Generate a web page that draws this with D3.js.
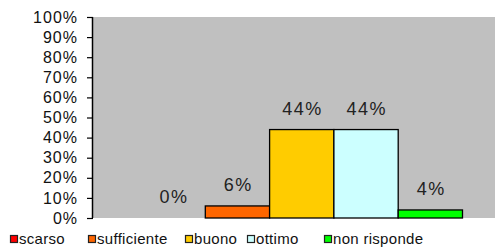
<!DOCTYPE html>
<html>
<head>
<meta charset="utf-8">
<script src="https://cdn.jsdelivr.net/npm/d3@7"></script>
<style>
  body { margin: 0; background: #fff; }
  svg { display: block; font-family: Arial, "Liberation Sans", sans-serif; }
</style>
</head>
<body>
<svg id="chart"></svg>
<script>
// dati
const categories = ['scarso', 'sufficiente', 'buono', 'ottimo', 'non risponde'];
const values = [0, 6, 44, 44, 4];
const colors = ['#ff0000', '#ff6600', '#ffcc00', '#ccffff', '#00ff00'];
const yTicks = [0, 10, 20, 30, 40, 50, 60, 70, 80, 90, 100];

const width = 495, height = 247;
const plot = { left: 93, right: 495, top: 17, bottom: 218 };

const svg = d3.select('#chart')
  .attr('width', width)
  .attr('height', height);

// scale
const x = d3.scaleBand()
  .domain(categories)
  .range([141, 462.5])
  .padding(0);

const y = d3.scaleLinear()
  .domain([0, 100])
  .range([plot.bottom, plot.top]);

// sfondo area del grafico
svg.append('rect')
  .attr('x', plot.left)
  .attr('y', plot.top)
  .attr('width', plot.right - plot.left)
  .attr('height', plot.bottom - plot.top)
  .attr('fill', '#c0c0c0');

// barre
svg.selectAll('.bar')
  .data(categories)
  .enter()
  .append('rect')
  .attr('class', 'bar')
  .attr('x', d => x(d))
  .attr('y', (d, i) => y(values[i]))
  .attr('width', x.bandwidth())
  .attr('height', (d, i) => y(0) - y(values[i]))
  .attr('fill', (d, i) => colors[i])
  .attr('stroke', (d, i) => values[i] > 0 ? '#000' : 'none')
  .attr('stroke-width', 1.3);

// etichette valori
svg.selectAll('.label')
  .data(categories)
  .enter()
  .append('text')
  .attr('class', 'label')
  .attr('x', d => x(d) + x.bandwidth() / 2 + 0.8)
  .attr('y', (d, i) => y(values[i]) - 15)
  .attr('text-anchor', 'middle')
  .style('font-size', '18px')
  .style('letter-spacing', '1.5px')
  .style('fill', '#222')
  .text((d, i) => values[i] + '%');

// asse Y
const yAxis = svg.append('g')
  .attr('transform', `translate(${plot.left},0)`)
  .call(d3.axisLeft(y)
    .tickValues(yTicks)
    .tickSize(6)
    .tickPadding(9)
    .tickFormat(d => d + '%'));

yAxis.select('.domain')
  .attr('d', `M-0.5,${plot.top}V${plot.bottom}`)
  .attr('stroke', '#000')
  .attr('stroke-width', 1.5);
yAxis.selectAll('.tick line')
  .attr('stroke', '#000')
  .attr('stroke-width', 1.2);
yAxis.selectAll('text')
  .style('font-size', '16px')
  .style('letter-spacing', '1px')
  .style('font-family', 'Arial, "Liberation Sans", sans-serif')
  .style('fill', '#111');

// legenda
const legendX = [10, 88, 185, 247, 324];
const legend = svg.append('g');
const item = legend.selectAll('.item')
  .data(categories)
  .enter()
  .append('g')
  .attr('class', 'item')
  .attr('transform', (d, i) => `translate(${legendX[i]},235)`);

item.append('rect')
  .attr('x', 0.5)
  .attr('y', 0.5)
  .attr('width', 7)
  .attr('height', 7)
  .attr('fill', (d, i) => colors[i])
  .attr('stroke', '#222')
  .attr('stroke-width', 1.2);

item.append('text')
  .attr('x', 9)
  .attr('y', 8.5)
  .style('font-size', '15px')
  .style('letter-spacing', '0.3px')
  .style('fill', '#111')
  .text(d => d);
</script>
</body>
</html>
